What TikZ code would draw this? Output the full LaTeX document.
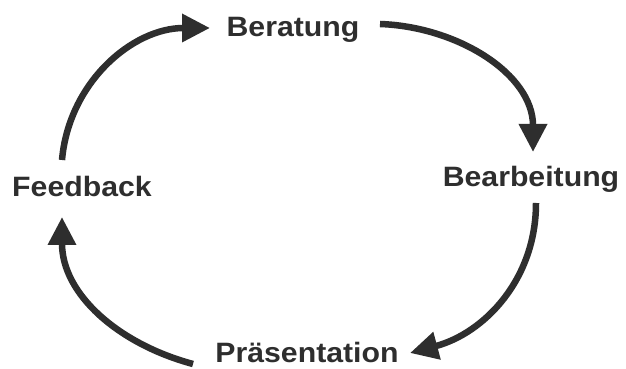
\documentclass[tikz,border=0pt]{standalone}
\usepackage{fontspec}
\setmainfont{Liberation Sans}[FakeStretch=1.08]
\usetikzlibrary{arrows.meta,calc}
\definecolor{ink}{HTML}{2E2E2E}
\begin{document}
\begin{tikzpicture}[x=1pt,y=1pt,
  lbl/.style={text=ink,font=\fontsize{28}{30}\selectfont\bfseries,inner sep=0pt,text height=20pt,text depth=0pt,anchor=center},
  arr/.style={draw=ink,line width=6.5pt,-{Triangle[length=28pt,width=27pt]}}]
\useasboundingbox[fill=white] (0,0) rectangle (626,369);
\node[lbl] (beratung) at (293,342) {Beratung};
\node[lbl] (bearbeitung) at (531,192) {Bearbeitung};
\node[lbl] (feedback) at (82,182) {Feedback};
\node[lbl] (praes) at (307,16) {Präsentation};
\draw[arr] ($(feedback)+(-20,27)$) to[out=85,in=180] ($(beratung)+(-83,-1)$);
\draw[arr] ($(beratung)+(87,3)$) to[out=-2,in=90] ($(bearbeitung)+(2,25)$);
\draw[arr] ($(bearbeitung)+(5,-26)$) to[out=-90,in=15] ($(praes)+(103,0)$);
\draw[arr] ($(praes)+(-114,-11)$) to[out=165,in=-90] ($(feedback)+(-20,-30)$);
\end{tikzpicture}
\end{document}
